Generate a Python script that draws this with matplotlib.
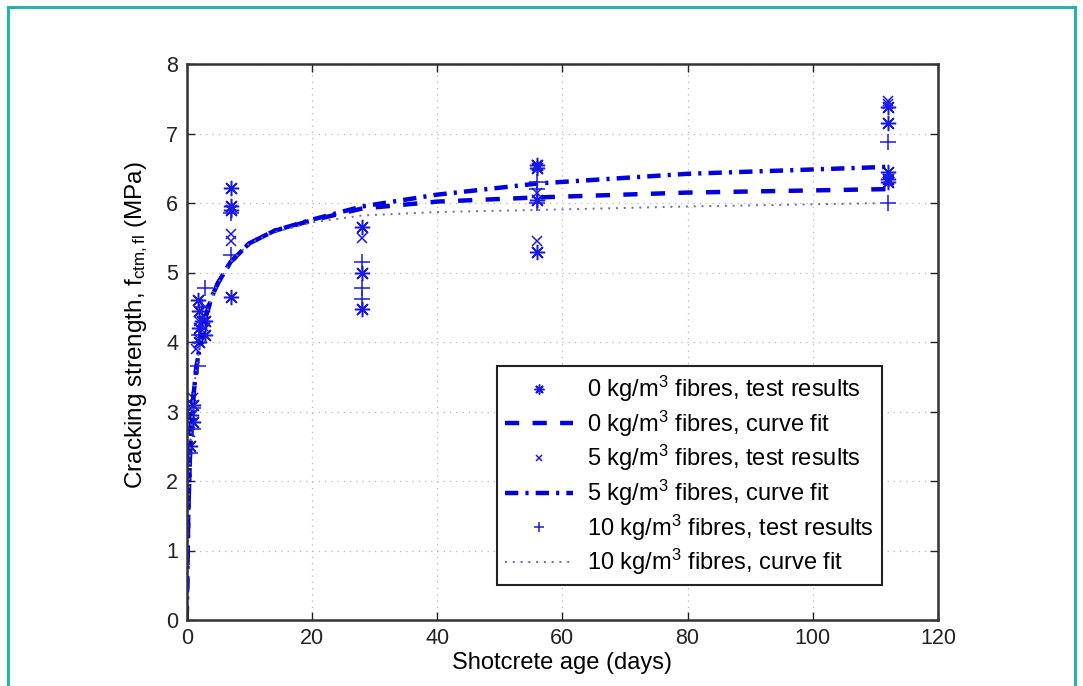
import matplotlib
matplotlib.use("Agg")
import matplotlib.pyplot as plt
from matplotlib.patches import Rectangle

plt.rcParams['font.family'] = ['Liberation Sans', 'DejaVu Sans']
plt.rcParams['mathtext.fontset'] = 'custom'
plt.rcParams['mathtext.rm'] = 'Liberation Sans'
plt.rcParams['mathtext.it'] = 'Liberation Sans:italic'
plt.rcParams['mathtext.default'] = 'regular'

# ---------------- data ----------------
# test results: ages (days) and cracking strengths (MPa)
t0 = [0.5, 0.75, 1, 1, 2, 2, 2, 2.5, 3, 3, 1.8, 7, 7, 7, 7, 28, 28, 28, 56, 56, 56, 56, 112, 112, 112, 112, 112]
y0 = [2.5, 2.95, 3.1, 2.85, 4.0, 4.2, 4.45, 4.3, 4.1, 4.3, 4.6, 6.22, 5.95, 5.9, 4.65, 5.65, 5.0, 4.47,
      6.55, 6.5, 6.05, 5.3, 7.38, 7.15, 6.45, 6.35, 6.3]

t5 = [0.5, 0.75, 1, 2, 2, 3, 3, 1.5, 7, 7, 28, 56, 56, 56, 112, 112, 112]
y5 = [2.7, 3.05, 3.2, 4.05, 4.3, 4.5, 4.2, 3.9, 5.55, 5.45, 5.5, 6.55, 6.15, 5.45, 7.47, 7.42, 6.35]

t10 = [0.5, 1, 1, 1.8, 2, 3, 2.5, 7, 7, 28, 28, 28, 56, 56, 56, 112, 112]
y10 = [2.4, 2.75, 3.05, 3.66, 4.1, 4.77, 4.5, 5.85, 5.25, 5.15, 4.78, 4.62, 6.3, 6.2, 6.0, 6.88, 6.0]

# curve fits, read at these ages
t_fit = [0, 0.1, 0.25, 0.5, 0.75, 1, 1.5, 2, 3, 4, 5, 7, 10, 14, 20, 28, 40, 56, 80, 112]
fit0 = [0, 0.6, 1.5, 2.3, 2.8, 3.15, 3.6, 3.9, 4.35, 4.65, 4.85, 5.15, 5.42, 5.6, 5.75, 5.92, 6.02, 6.08, 6.15, 6.2]
fit5 = [0, 0.6, 1.5, 2.3, 2.8, 3.15, 3.6, 3.9, 4.35, 4.65, 4.85, 5.15, 5.42, 5.6, 5.76, 5.95, 6.12, 6.28, 6.42, 6.52]
fit10 = [0, 0.6, 1.5, 2.3, 2.8, 3.15, 3.6, 3.9, 4.35, 4.65, 4.85, 5.15, 5.42, 5.58, 5.72, 5.82, 5.87, 5.9, 5.95, 6.0]

x_ticks = [0, 20, 40, 60, 80, 100, 120]
y_ticks = [0, 1, 2, 3, 4, 5, 6, 7, 8]

labels = ['0 kg/m$^3$ fibres, test results', '0 kg/m$^3$ fibres, curve fit',
          '5 kg/m$^3$ fibres, test results', '5 kg/m$^3$ fibres, curve fit',
          '10 kg/m$^3$ fibres, test results', '10 kg/m$^3$ fibres, curve fit']

# ---------------- figure ----------------
fig = plt.figure(figsize=(10.83, 6.86), dpi=100)
fig.patch.set_facecolor('white')
fig.patches.append(Rectangle((7.5 / 1083, -0.05), (1075 - 7.5) / 1083, 1.05 - 7.5 / 686,
                             transform=fig.transFigure, fill=False,
                             edgecolor='#22b5ad', linewidth=2.2, zorder=0))

ax = fig.add_axes([186.7 / 1083, 1 - 620 / 686, (938 - 186.7) / 1083, (620 - 64) / 686])

mc = '#1a1ae6'
lc = '#0000e0'
asterisk = (8, 2, 0)

h1, = ax.plot(t0, y0, linestyle='none', marker=asterisk, markersize=11, markeredgewidth=1.1,
              color=mc, label=labels[0])
h2, = ax.plot(t_fit, fit0, color=lc, linewidth=3.2, dashes=(3.2, 3.0), label=labels[1])
h3, = ax.plot(t5, y5, linestyle='none', marker='x', markersize=7, markeredgewidth=1.1,
              color=mc, label=labels[2])
h4, = ax.plot(t_fit, fit5, color=lc, linewidth=3.2, dashes=(3.0, 1.6, 0.7, 1.6), label=labels[3])
h5, = ax.plot(t10, y10, linestyle='none', marker='+', markersize=12, markeredgewidth=1.1,
              color=mc, label=labels[4])
h6, = ax.plot(t_fit, fit10, color='#6a6aa8', linewidth=1.4, dashes=(1.0, 3.0), label=labels[5])

ax.set_xlim(0, 120)
ax.set_ylim(0, 8)
ax.set_xticks(x_ticks)
ax.set_yticks(y_ticks)
ax.grid(True, color='#b8b8b8', linestyle=(0, (1, 4)), linewidth=0.9)
ax.tick_params(direction='in', length=6, width=1, top=True, right=True, labelsize=15.5, pad=6,
               colors='#222222')
for s in ax.spines.values():
    s.set_linewidth(1.8)
    s.set_color('#333333')

ax.set_xlabel('Shotcrete age (days)', fontsize=17, labelpad=2)
ax.set_ylabel('Cracking strength, f$_{ctm,fl}$ (MPa)', fontsize=17.5)
ax.yaxis.set_label_coords(-0.049, 0.53)

leg = ax.legend(handles=[h1, h2, h3, h4, h5, h6], loc='lower left',
                bbox_to_anchor=(0.413, 0.063), borderaxespad=0, fontsize=17,
                fancybox=False, framealpha=1, edgecolor='#222222', handlelength=2.9,
                handletextpad=0.6, labelspacing=0.19, borderpad=0.32, markerscale=0.65)
leg.get_frame().set_linewidth(1.5)

fig.savefig('out.png', dpi=100)
